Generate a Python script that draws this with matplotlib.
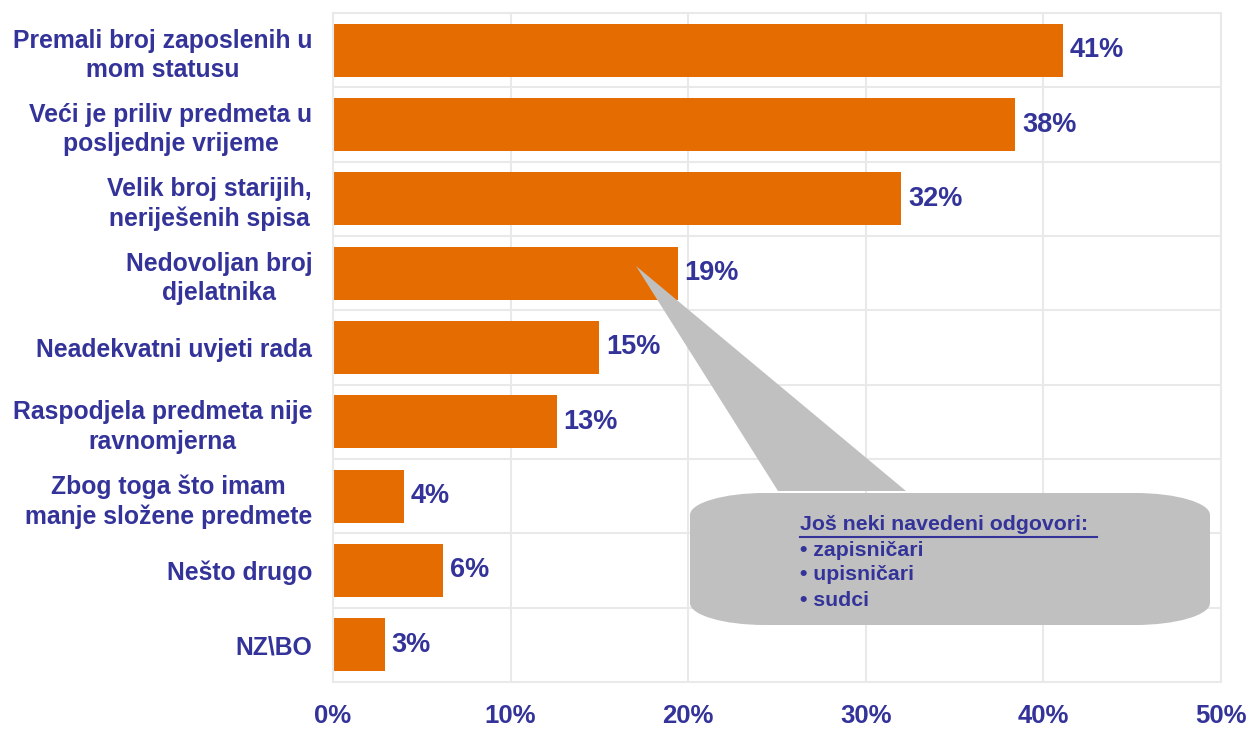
import matplotlib
matplotlib.use("Agg")
import matplotlib.pyplot as plt
from matplotlib import font_manager
from matplotlib.patches import Polygon, PathPatch
from matplotlib.path import Path
from matplotlib.lines import Line2D
from matplotlib.transforms import Affine2D

categories = [
    "Premali broj zaposlenih u\nmom statusu",
    "Veći je priliv predmeta u\nposljednje vrijeme",
    "Velik broj starijih,\nneriješenih spisa",
    "Nedovoljan broj\ndjelatnika",
    "Neadekvatni uvjeti rada",
    "Raspodjela predmeta nije\nravnomjerna",
    "Zbog toga što imam\nmanje složene predmete",
    "Nešto drugo",
    "NZ\\BO",
]
values = [41.1, 38.4, 32.0, 19.4, 15.0, 12.6, 4.0, 6.2, 2.9]
value_labels = ["41%", "38%", "32%", "19%", "15%", "13%", "4%", "6%", "3%"]
xticks = [0, 10, 20, 30, 40, 50]
xtick_labels = ["0%", "10%", "20%", "30%", "40%", "50%"]
callout_title = "Još neki navedeni odgovori:"
callout_items = ["• zapisničari", "• upisničari", "• sudci"]

BLUE = "#333399"
ORANGE = "#E46C00"
GRID = "#E9E9E9"
GRAY = "#C0C0C0"

plt.rcParams["font.family"] = ["Liberation Sans", "DejaVu Sans"]
names = {f.name for f in font_manager.fontManager.ttflist}
narrow = "Liberation Sans Narrow" if "Liberation Sans Narrow" in names else None

W, H = 1249, 729
fig = plt.figure(figsize=(W / 100, H / 100), dpi=100)
ax = fig.add_axes([333 / W, 1 - 682 / H, (1221 - 333) / W, (682 - 13) / H])

n = len(categories)
ypos = list(range(n))
ax.barh(ypos, values, height=0.71, color=ORANGE, zorder=2)
ax.set_ylim(n - 0.5, -0.5)
ax.set_xlim(0, 50)

ax.set_xticks(xticks)
ax.set_xticklabels(xtick_labels)
ax.set_yticks(ypos)
ax.set_yticklabels(categories)
ax.set_yticks([i + 0.5 for i in range(n - 1)], minor=True)
ax.tick_params(axis="y", which="both", length=0, pad=15)
ax.tick_params(axis="x", length=0, pad=16)
for lab in ax.get_yticklabels():
    lab.set_fontsize(17.8)
    lab.set_fontweight("bold")
    lab.set_color(BLUE)
    lab.set_horizontalalignment("right")
    lab.set_multialignment("center")
    lab.set_linespacing(1.28)
for lab in ax.get_xticklabels():
    lab.set_fontsize(18.5)
    lab.set_fontweight("bold")
    lab.set_color(BLUE)

ax.grid(axis="x", which="major", color=GRID, linewidth=1.5, zorder=0)
ax.grid(axis="y", which="minor", color=GRID, linewidth=1.5, zorder=0)
ax.grid(axis="y", which="major", visible=False)
for s in ax.spines.values():
    s.set_color(GRID)
    s.set_linewidth(1.5)

for y, v, t in zip(ypos, values, value_labels):
    ax.annotate(t, (v, y), xytext=(5, 0), textcoords="offset points",
                va="center", ha="left", fontsize=19.5, fontweight="bold",
                color=BLUE, zorder=3)

# callout (pixel coordinates, origin bottom-left)
T = Affine2D().scale(1 / W, 1 / H) + fig.transFigure
def py(y_top):
    return H - y_top

tip = (636, py(266))
x0, x1 = 690, 1210
y0, y1 = py(625), py(493)
rx, ry = 75, 22
k = 0.5523
verts = [
    (x0 + rx, y1), (x1 - rx, y1),
    (x1 - rx + k * rx, y1), (x1, y1 - ry + k * ry), (x1, y1 - ry),
    (x1, y0 + ry),
    (x1, y0 + ry - k * ry), (x1 - rx + k * rx, y0), (x1 - rx, y0),
    (x0 + rx, y0),
    (x0 + rx - k * rx, y0), (x0, y0 + ry - k * ry), (x0, y0 + ry),
    (x0, y1 - ry),
    (x0, y1 - ry + k * ry), (x0 + rx - k * rx, y1), (x0 + rx, y1),
    (x0 + rx, y1),
]
codes = [Path.MOVETO, Path.LINETO,
         Path.CURVE4, Path.CURVE4, Path.CURVE4,
         Path.LINETO,
         Path.CURVE4, Path.CURVE4, Path.CURVE4,
         Path.LINETO,
         Path.CURVE4, Path.CURVE4, Path.CURVE4,
         Path.LINETO,
         Path.CURVE4, Path.CURVE4, Path.CURVE4,
         Path.CLOSEPOLY]
box = PathPatch(Path(verts, codes), facecolor=GRAY, edgecolor="none",
                transform=T, zorder=5)
pointer = Polygon([tip, (778, y1 + 2), (906, y1 + 2)], closed=True,
                  facecolor=GRAY, edgecolor="none", transform=T, zorder=5)
fig.add_artist(pointer)
fig.add_artist(box)

tfam = [narrow, "Liberation Sans", "DejaVu Sans"] if narrow else ["Liberation Sans", "DejaVu Sans"]
tsize = 17 if narrow else 15.3
fig.text(800 / W, py(525) / H, callout_title, fontsize=tsize, fontweight="bold",
         color=BLUE, family=tfam, va="center", ha="left", zorder=6)
fig.add_artist(Line2D([800 / W, 1097 / W], [py(537) / H] * 2, color=BLUE,
                      linewidth=1.5, transform=fig.transFigure, zorder=6))
for i, item in enumerate(callout_items):
    fig.text(800 / W, py(550 + 25 * i) / H, item, fontsize=tsize, fontweight="bold",
             color=BLUE, family=tfam, va="center", ha="left", zorder=6)

fig.savefig("out.png", dpi=100)
